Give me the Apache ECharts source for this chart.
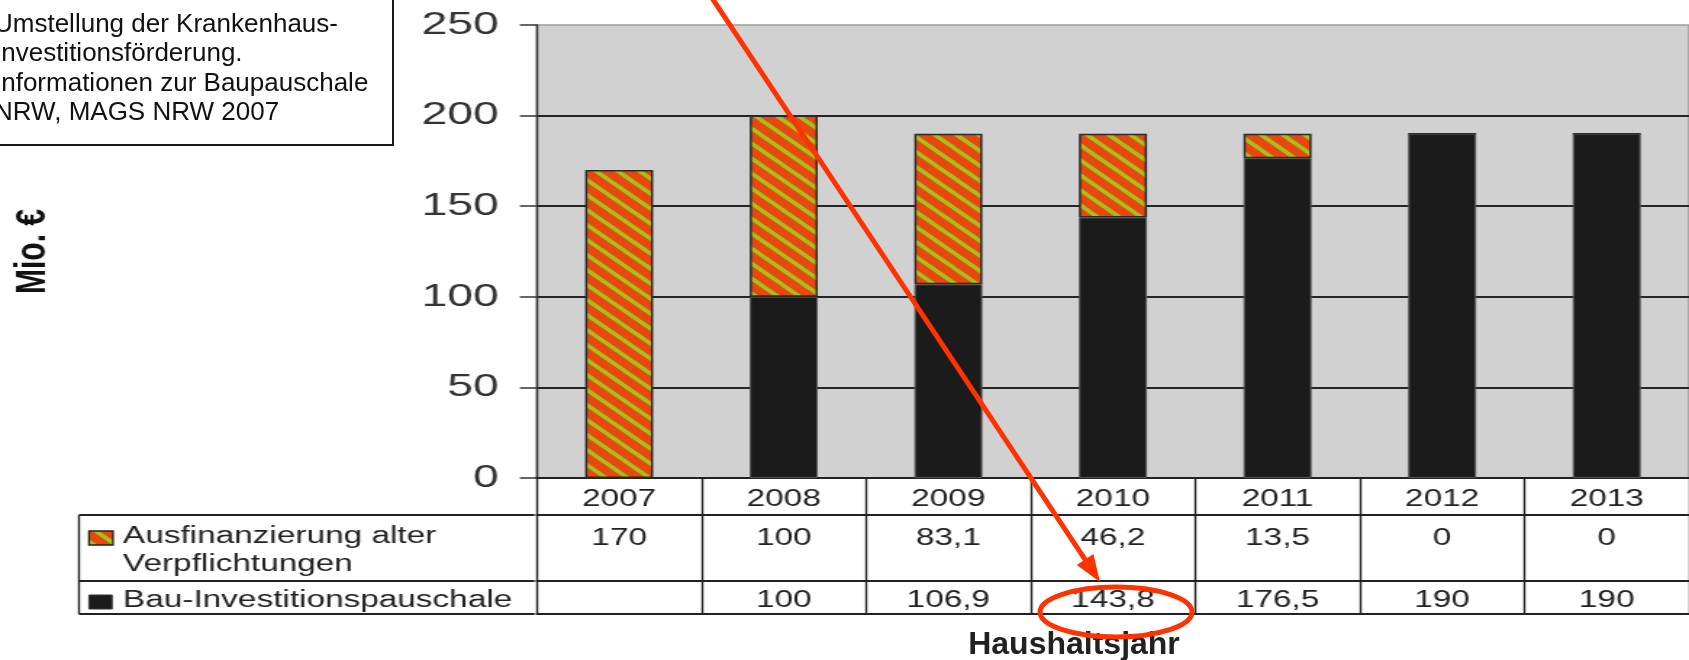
<!DOCTYPE html>
<html><head><meta charset="utf-8">
<script src="https://cdn.jsdelivr.net/npm/echarts@6/dist/echarts.min.js"></script>
<style>
html,body{margin:0;padding:0;background:#fff;overflow:hidden;}
#wrap{position:relative;width:1689px;height:660px;overflow:hidden;}
#chart{position:absolute;left:0;top:0;width:1165px;height:660px;transform:scaleX(1.449785);transform-origin:0 0;}
#overlay{position:absolute;left:0;top:0;width:1689px;height:660px;pointer-events:none;}
</style></head><body>
<div id="wrap"><div id="chart"></div><div id="overlay"></div></div>
<script>
// ---- data ----
const years = ['2007', '2008', '2009', '2010', '2011', '2012', '2013'];
const ausfinanzierung = [170, 100, 83.1, 46.2, 13.5, 0, 0];
const bauPauschale = [null, 100, 106.9, 143.8, 176.5, 190, 190];
const yMin = 0, yMax = 250, yStep = 50;
const seriesNames = ['Ausfinanzierung alter Verpflichtungen', 'Bau-Investitionspauschale'];
const yAxisTitle = 'Mio. €';
const xAxisTitle = 'Haushaltsjahr';
const noteLines = ['Umstellung der Krankenhaus-', 'Investitionsförderung.', 'Informationen zur Baupauschale', 'NRW, MAGS NRW 2007'];

// ---- layout (reference pixels; chart canvas is stretched horizontally like the source image) ----
const S = 1689 / 1165;
const fx = v => v / S;
const FONT = '"Liberation Sans", Arial, sans-serif';
const plotLeft = 534.5, plotTop = 25, plotBottom = 478, bandW = 167;
const rowYear = 515, rowA = 581, rowB = 614, tableLeft = 79;
const fmt = v => (v === null || v === undefined) ? '' : String(v).replace('.', ',');

function stripePattern() {
  const p = 15, c = document.createElement('canvas');
  c.width = p; c.height = p;
  const g = c.getContext('2d');
  g.fillStyle = '#e8480f'; g.fillRect(0, 0, p, p);
  g.strokeStyle = '#a3c21b'; g.lineWidth = 3.4;
  for (let k = -2; k <= 2; k++) {
    g.beginPath(); g.moveTo(-p, -p + k * p); g.lineTo(2 * p, 2 * p + k * p); g.stroke();
  }
  return { image: c, repeat: 'repeat' };
}
const hatch = stripePattern();

const chart = echarts.init(document.getElementById('chart'), null, { renderer: 'canvas' });
const baseLabel = { fontFamily: FONT, fontSize: 23, lineHeight: 23, color: '#222', interval: 0 };
const lineSt = { color: '#222', width: 2 };

chart.setOption({
  animation: false,
  backgroundColor: '#ffffff',
  grid: {
    left: fx(plotLeft), top: plotTop, width: fx(bandW * years.length), height: plotBottom - plotTop,
    show: true, backgroundColor: '#d1d1d1', borderColor: '#9c9c9c', borderWidth: 1.5
  },
  xAxis: [
    { type: 'category', data: years, position: 'bottom', offset: 0,
      axisLine: { lineStyle: lineSt },
      axisTick: { show: true, alignWithLabel: false, interval: 0, length: rowB - plotBottom, lineStyle: { color: '#222', width: 1.4 } },
      axisLabel: Object.assign({}, baseLabel, { margin: 10 }) },
    { type: 'category', data: years, position: 'bottom', offset: rowYear - plotBottom,
      axisLine: { lineStyle: lineSt }, axisTick: { show: false },
      axisLabel: Object.assign({}, baseLabel, { margin: 12, formatter: (v, i) => fmt(ausfinanzierung[i]) }) },
    { type: 'category', data: years, position: 'bottom', offset: rowA - plotBottom,
      axisLine: { lineStyle: lineSt }, axisTick: { show: false },
      axisLabel: Object.assign({}, baseLabel, { margin: 8.5, formatter: (v, i) => fmt(bauPauschale[i]) }) },
    { type: 'category', data: years, position: 'bottom', offset: rowB - plotBottom,
      axisLine: { lineStyle: lineSt }, axisTick: { show: false }, axisLabel: { show: false } }
  ],
  yAxis: {
    type: 'value', min: yMin, max: yMax, interval: yStep,
    axisLine: { show: true, lineStyle: { color: '#333', width: 1.4 } },
    axisTick: { show: true, length: fx(17), lineStyle: { color: '#333', width: 1.5 } },
    axisLabel: { fontFamily: FONT, fontSize: 32, color: '#333', margin: fx(38) },
    splitLine: { show: true, showMaxLine: false, showMinLine: false, lineStyle: { color: '#262626', width: 2 } },
    name: yAxisTitle, nameLocation: 'middle', nameRotate: 90, nameGap: fx(plotLeft) - fx(31) - 15,
    nameTextStyle: { fontFamily: FONT, fontSize: 30, lineHeight: 30, fontWeight: 'bold', color: '#111' }
  },
  series: [
    { name: seriesNames[1], type: 'bar', stack: 'total', data: bauPauschale, barWidth: fx(68),
      itemStyle: { color: '#1b1b1b', borderColor: '#555', borderWidth: 1 } },
    { name: seriesNames[0], type: 'bar', stack: 'total', data: ausfinanzierung, barWidth: fx(68),
      itemStyle: { color: hatch, borderColor: '#2a2a2a', borderWidth: 1.5 } }
  ],
  graphic: [
    { type: 'line', shape: { x1: fx(tableLeft), y1: rowYear, x2: fx(plotLeft), y2: rowYear }, style: { stroke: '#222', lineWidth: 2 } },
    { type: 'line', shape: { x1: fx(tableLeft), y1: rowA, x2: fx(plotLeft), y2: rowA }, style: { stroke: '#222', lineWidth: 2 } },
    { type: 'line', shape: { x1: fx(tableLeft), y1: rowB, x2: fx(plotLeft), y2: rowB }, style: { stroke: '#222', lineWidth: 2 } },
    { type: 'line', shape: { x1: fx(tableLeft), y1: rowYear, x2: fx(tableLeft), y2: rowB }, style: { stroke: '#222', lineWidth: 1.4 } },
    { type: 'rect', shape: { x: fx(89), y: 531, width: fx(24), height: 14 }, style: { fill: hatch, stroke: '#222', lineWidth: 1.3 } },
    { type: 'rect', shape: { x: fx(89), y: 595, width: fx(23), height: 14 }, style: { fill: '#1b1b1b', stroke: '#333', lineWidth: 1 } },
    { type: 'text', x: fx(123), y: 537, style: { text: 'Ausfinanzierung alter', font: '23px ' + FONT, fill: '#222', verticalAlign: 'middle' } },
    { type: 'text', x: fx(123), y: 565, style: { text: 'Verpflichtungen', font: '23px ' + FONT, fill: '#222', verticalAlign: 'middle' } },
    { type: 'text', x: fx(123), y: 600.5, style: { text: seriesNames[1], font: '23px ' + FONT, fill: '#222', verticalAlign: 'middle' } }
  ]
});

// ---- unstretched overlay: source note, axis title and red highlight ----
const ov = echarts.init(document.getElementById('overlay'), null, { renderer: 'canvas' });
const red = '#ff3300';
const tip = [1100, 582], start = [712, -2];
const dx = tip[0] - start[0], dy = tip[1] - start[1], len = Math.hypot(dx, dy);
const ux = dx / len, uy = dy / len, head = 27, half = 10;
const base = [tip[0] - head * ux, tip[1] - head * uy];
ov.setOption({
  animation: false,
  backgroundColor: 'transparent',
  graphic: [
    { type: 'rect', shape: { x: -6, y: -6, width: 399, height: 151 }, style: { fill: '#fff', stroke: '#1a1a1a', lineWidth: 2 } },
    ...noteLines.map((t, i) => ({ type: 'text', x: -6, y: 25 + i * 29.3,
      style: { text: t, font: '26px ' + FONT, fill: '#111', verticalAlign: 'middle' } })),
    { type: 'text', x: 1074, y: 645, style: { text: xAxisTitle, font: 'bold 32px ' + FONT, fill: '#222', align: 'center', verticalAlign: 'middle' } },
    { type: 'line', shape: { x1: start[0], y1: start[1], x2: base[0] + 2 * ux, y2: base[1] + 2 * uy }, style: { stroke: red, lineWidth: 5 } },
    { type: 'polygon', shape: { points: [tip, [base[0] - half * uy, base[1] + half * ux], [base[0] + half * uy, base[1] - half * ux]] }, style: { fill: red } },
    { type: 'ellipse', shape: { cx: 1116, cy: 612, rx: 76, ry: 25 }, style: { fill: 'none', stroke: red, lineWidth: 5 } }
  ]
});
</script>
</body></html>
